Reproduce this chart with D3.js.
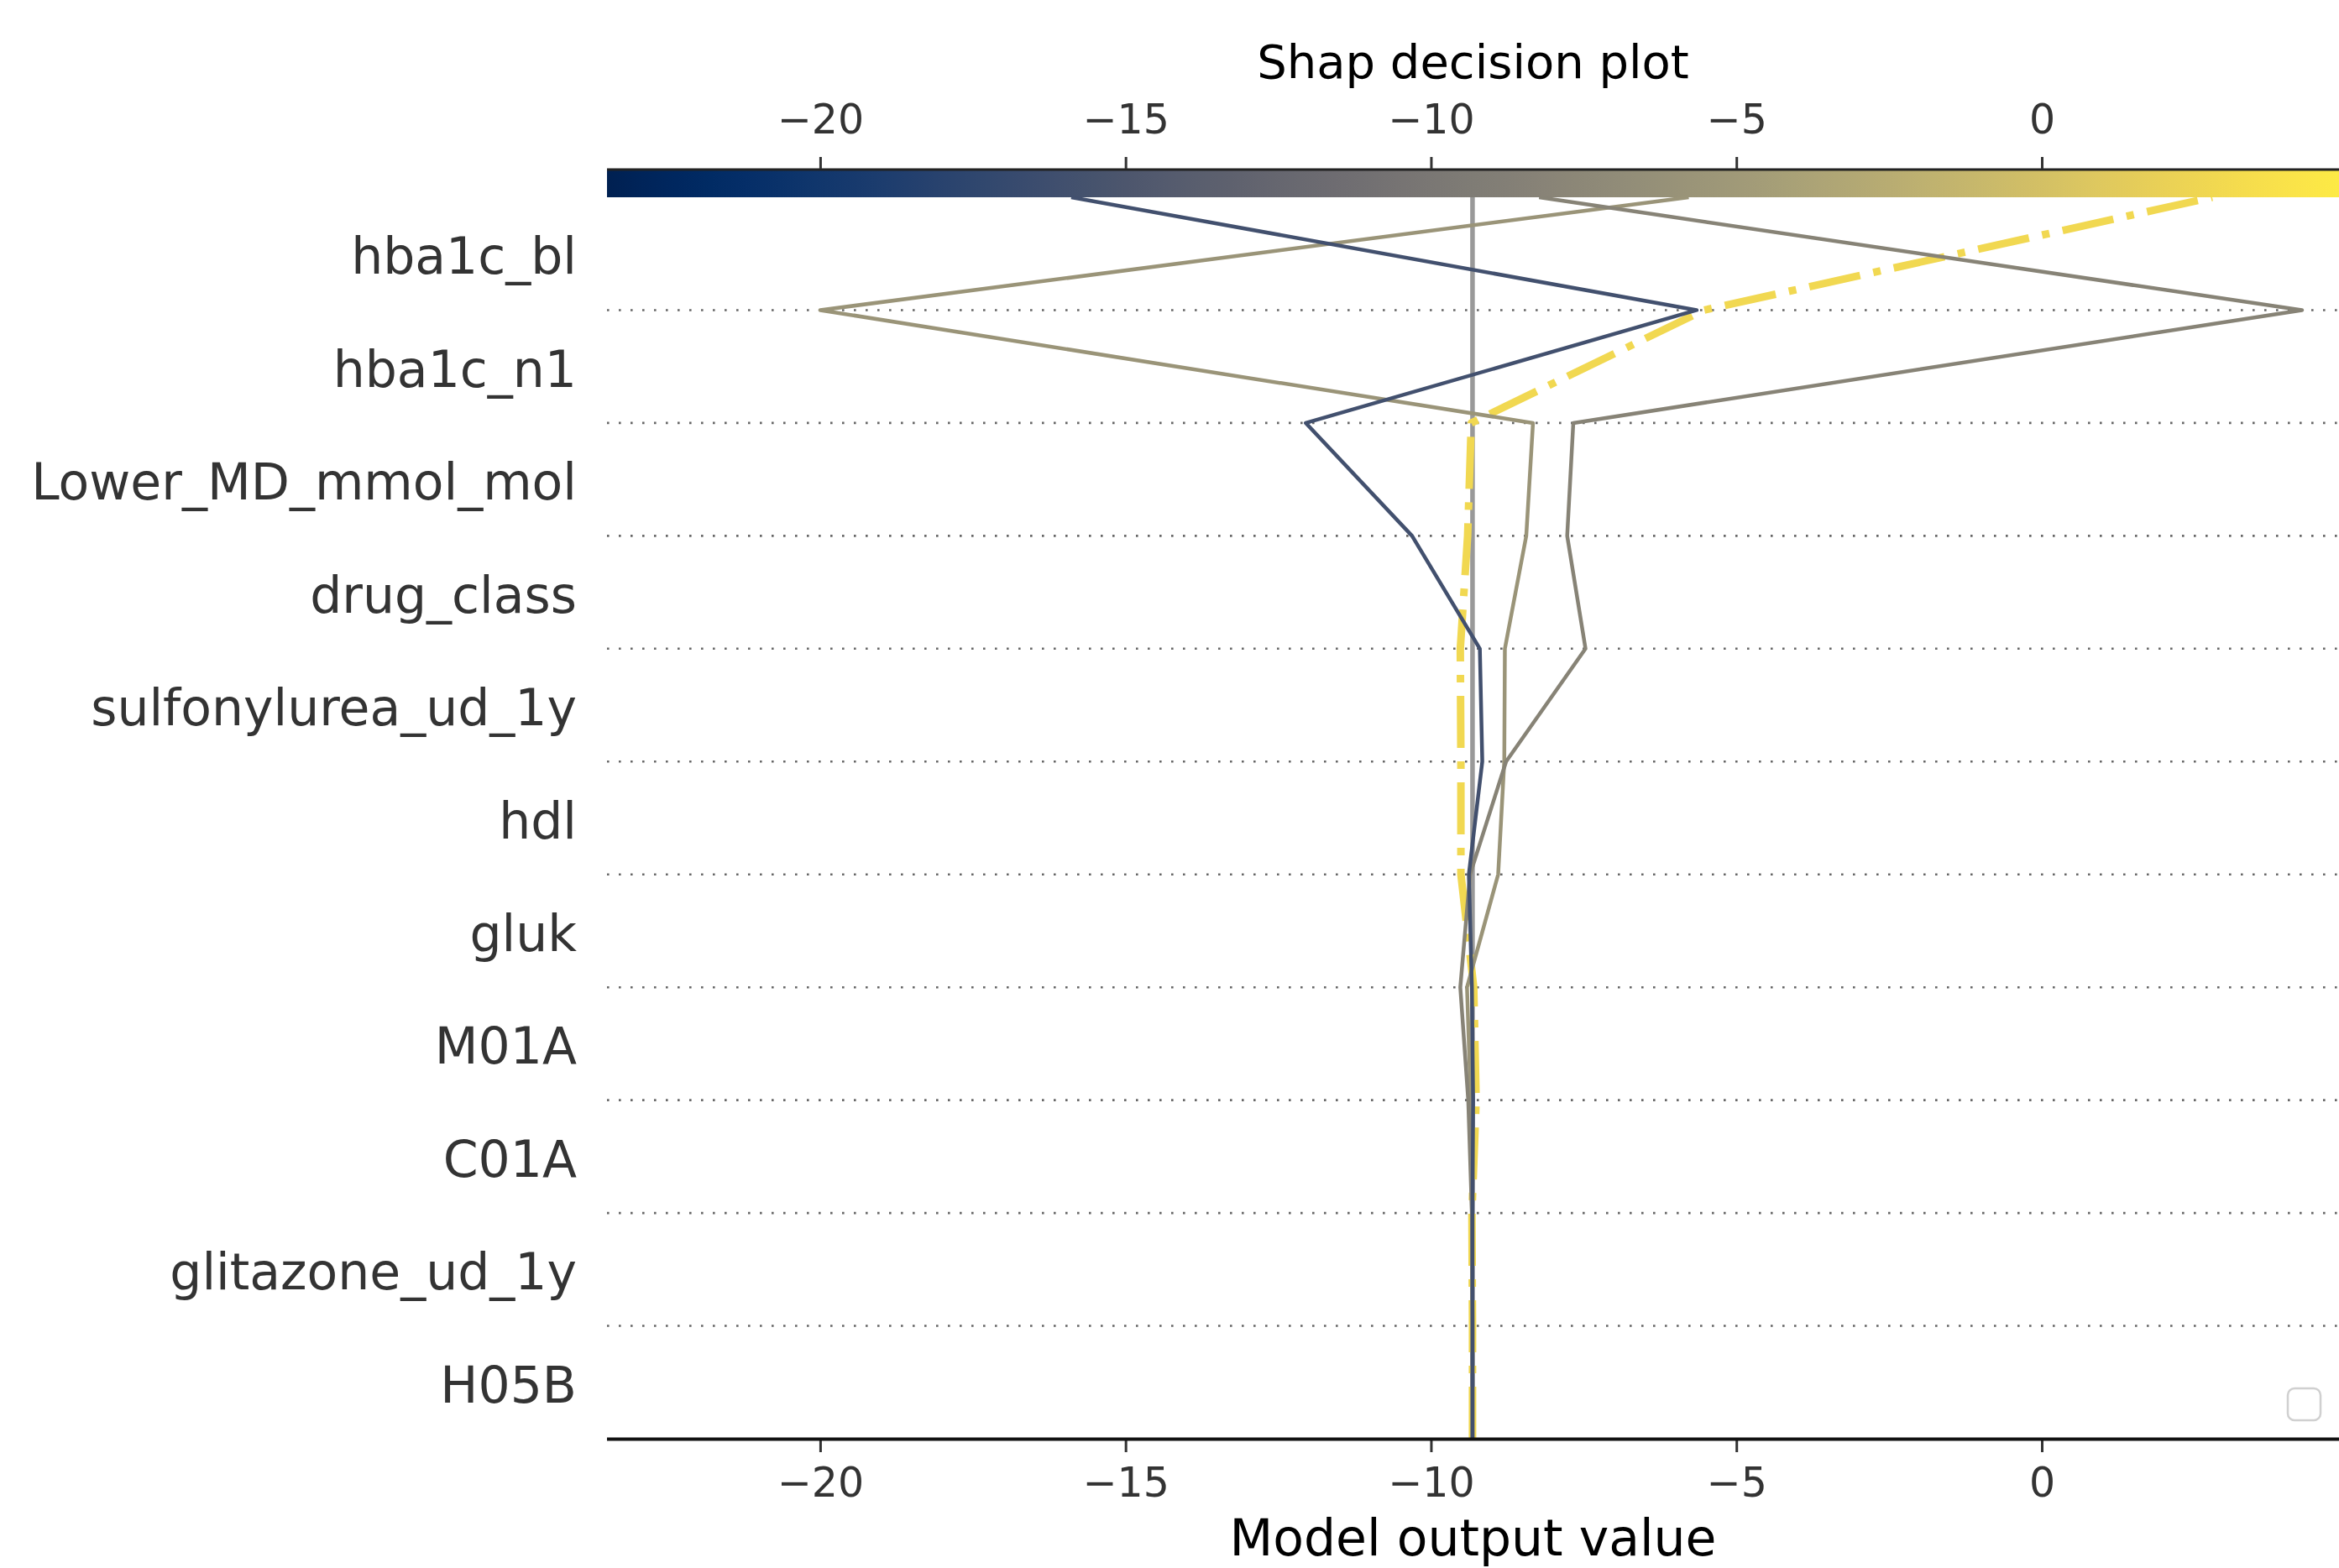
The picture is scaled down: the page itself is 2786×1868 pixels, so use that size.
<!DOCTYPE html>
<html>
<head>
<meta charset="utf-8">
<script src="https://cdn.jsdelivr.net/npm/d3@7"></script>
<style>
  html, body { margin: 0; padding: 0; background: #fff; }
  svg { display: block; font-family: "DejaVu Sans", sans-serif; }
</style>
</head>
<body>
<svg id="chart" width="2786" height="1868"></svg>
<script>
// ---------------- data ----------------
const features = ["hba1c_bl", "hba1c_n1", "Lower_MD_mmol_mol", "drug_class",
  "sulfonylurea_ud_1y", "hdl", "gluk", "M01A", "C01A", "glitazone_ud_1y", "H05B"];
const xTicks = [-20, -15, -10, -5, 0];
const baseValue = -9.32;
// cumulative model output, from the base value (bottom) up to the final prediction (top)
const obsHighlight = [-9.32, -9.32, -9.33, -9.26, -9.30, -9.51, -9.51, -9.52, -9.40, -9.34, -5.53, 2.79];
const obsTan       = [-9.32, -9.32, -9.33, -9.35, -9.41, -8.90, -8.80, -8.79, -8.44, -8.33, -20.0, -5.78];
const obsGrey      = [-9.32, -9.32, -9.33, -9.39, -9.52, -9.36, -8.77, -7.47, -7.77, -7.67, 4.26, -8.23];
const obsBlue      = [-9.32, -9.32, -9.32, -9.31, -9.33, -9.38, -9.16, -9.20, -10.31, -12.05, -5.65, -15.89];
const xDomain = [-23.49, 4.866];

// ---------------- layout ----------------
const svg = d3.select("#chart");
const pL = 723, pR = 2786, pT = 235, pB = 1714;
const cbTop = 201, cbBottom = 235;

const x = d3.scaleLinear().domain(xDomain).range([pL, pR]);
const y = d3.scaleLinear().domain([0, features.length]).range([pB, pT]);
const colorT = d3.scaleLinear().domain(xDomain).range([0, 1]);
const color = v => d3.interpolateCividis(colorT(v));

// ---------------- colorbar ----------------
const defs = svg.append("defs");
const grad = defs.append("linearGradient").attr("id", "cb")
  .attr("x1", "0%").attr("x2", "100%").attr("y1", "0%").attr("y2", "0%");
d3.range(0, 1.0001, 0.02).forEach(t => {
  grad.append("stop").attr("offset", (t * 100) + "%").attr("stop-color", d3.interpolateCividis(t));
});
svg.append("rect").attr("x", pL).attr("y", cbTop).attr("width", pR - pL)
  .attr("height", cbBottom - cbTop).attr("fill", "url(#cb)");
svg.append("line").attr("x1", pL).attr("x2", pR).attr("y1", cbTop + 1).attr("y2", cbTop + 1)
  .attr("stroke", "#222").attr("stroke-width", 3);

const fmt = d => d < 0 ? "\u2212" + Math.abs(d) : String(d);
const topAxis = d3.axisTop(x).tickValues(xTicks).tickSize(14).tickPadding(28).tickFormat(fmt);
const gTop = svg.append("g").attr("transform", `translate(0,${cbTop})`).call(topAxis);
gTop.select(".domain").remove();
gTop.selectAll(".tick line").attr("stroke", "#333").attr("stroke-width", 3);
gTop.selectAll(".tick text").attr("fill", "#333").attr("font-size", 49)
  .attr("font-family", "DejaVu Sans");

// title
svg.append("text").attr("x", (pL + pR) / 2).attr("y", 93).attr("text-anchor", "middle")
  .attr("font-size", 56).attr("fill", "#000").text("Shap decision plot");

// ---------------- grid ----------------
const gridG = svg.append("g");
d3.range(1, features.length).forEach(i => {
  gridG.append("line").attr("x1", pL).attr("x2", pR).attr("y1", y(i)).attr("y2", y(i))
    .attr("stroke", "#666").attr("stroke-width", 2.6).attr("stroke-dasharray", "2.6,11.4");
});

// y labels
features.forEach((f, i) => {
  const yi = features.length - 1 - i; // band index from bottom
  svg.append("text").attr("x", 687).attr("y", y(yi + 0.5) + 24)
    .attr("text-anchor", "end").attr("font-size", 60).attr("fill", "#333").text(f);
});

// base value line
svg.append("line").attr("x1", x(baseValue)).attr("x2", x(baseValue))
  .attr("y1", pT).attr("y2", pB).attr("stroke", "#999").attr("stroke-width", 5.5);

// ---------------- decision lines ----------------
const lineGen = d3.line().x(d => x(d)).y((d, i) => y(i));
const series = [
  { vals: obsHighlight, width: 9, dash: "62,16,9,16" },
  { vals: obsTan, width: 4.5, dash: null },
  { vals: obsGrey, width: 4.5, dash: null },
  { vals: obsBlue, width: 4.5, dash: null }
];
series.forEach(s => {
  svg.append("path").attr("d", lineGen(s.vals)).attr("fill", "none")
    .attr("stroke", color(s.vals[s.vals.length - 1])).attr("stroke-width", s.width)
    .attr("stroke-linejoin", "round")
    .attr("stroke-dasharray", s.dash);
});

// ---------------- bottom axis ----------------
const bAxis = d3.axisBottom(x).tickValues(xTicks).tickSize(16).tickPadding(18).tickFormat(fmt);
const gB = svg.append("g").attr("transform", `translate(0,${pB})`).call(bAxis);
gB.select(".domain").remove();
gB.selectAll(".tick line").attr("stroke", "#333").attr("stroke-width", 3);
gB.selectAll(".tick text").attr("fill", "#333").attr("font-size", 49)
  .attr("font-family", "DejaVu Sans");
svg.append("line").attr("x1", pL).attr("x2", pR).attr("y1", pB + 0.5).attr("y2", pB + 0.5)
  .attr("stroke", "#111").attr("stroke-width", 4);

svg.append("text").attr("x", (pL + pR) / 2).attr("y", 1853).attr("text-anchor", "middle")
  .attr("font-size", 60).attr("fill", "#000").text("Model output value");

// empty legend frame
svg.append("rect").attr("x", 2725).attr("y", 1654).attr("width", 39).attr("height", 38)
  .attr("rx", 8).attr("fill", "#fff").attr("stroke", "#d0d0d0").attr("stroke-width", 2.5);
</script>
</body>
</html>
